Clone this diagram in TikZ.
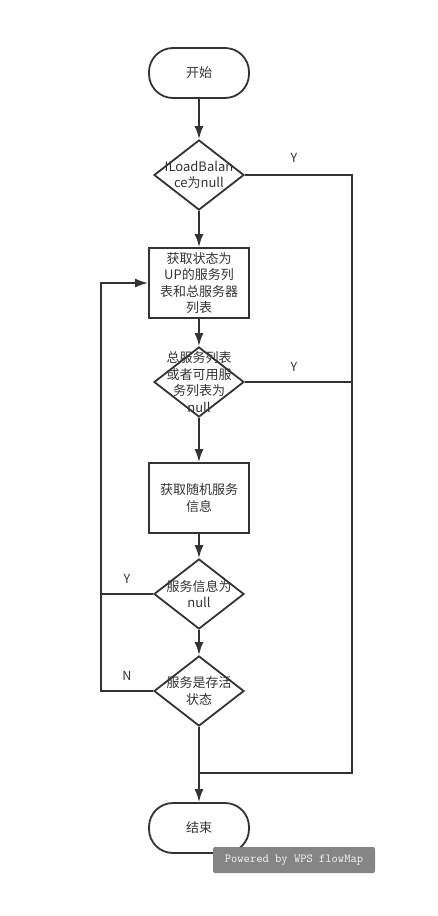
\documentclass[tikz,border=0pt]{standalone}
\usepackage{fontspec}
\setmainfont{Noto Sans CJK SC}
\usetikzlibrary{shapes.geometric,arrows.meta}
\definecolor{linegray}{HTML}{333333}
\definecolor{markgray}{HTML}{858585}

\tikzset{
  flow/.style={draw=linegray,line width=1.8pt},
  nodefont/.style={text=linegray,font=\fontsize{13}{16.5}\selectfont},
  terminal/.style={flow,nodefont,rounded corners=24pt,minimum width=100pt,minimum height=50pt,inner sep=0pt},
  process/.style={flow,nodefont,minimum width=100pt,minimum height=70pt,inner sep=0pt,align=center},
  decision/.style={flow,diamond,minimum width=90pt,minimum height=70pt,inner sep=0pt,
    label={[nodefont,align=center]center:#1}},
  branch/.style={text=linegray,font=\fontsize{12.5}{14}\selectfont}
}

\begin{document}
\begin{tikzpicture}[x=1pt,y=-1pt,>={Latex[length=13pt,width=9pt]}]
  \useasboundingbox (0,0) rectangle (437,916);
  % main column
  \node[terminal] (start) at (199,73) {开始};
  \node[decision={ILoadBalan\\ce为null}] (d1) at (199,175) {};
  \node[process] (r1) at (199,283) {获取状态为\\UP的服务列\\表和总服务器\\列表};
  \node[decision={总服务列表\\或者可用服\\务列表为\\null}] (d2) at (199,382) {};
  \node[process] (r2) at (199,498) {获取随机服务\\信息};
  \node[decision={服务信息为\\null}] (d3) at (199,594) {};
  \node[decision={服务是存活\\状态}] (d4) at (199,691) {};
  \node[terminal] (end) at (199,828) {结束};
  % corner points
  \coordinate (rtop) at (352,175);
  \coordinate (rbot) at (352,773);
  \coordinate (join) at (199,773);
  \coordinate (ltop) at (101,283);
  \coordinate (lbot) at (101,691);
  \draw[flow,->] (start) -- (d1);
  \draw[flow,->] (d1) -- (r1);
  \draw[flow,->] (r1) -- (d2);
  \draw[flow,->] (d2) -- (r2);
  \draw[flow,->] (r2) -- (d3);
  \draw[flow,->] (d3) -- (d4);
  \draw[flow] (d4.south) -- (join);
  \draw[flow,->] (join) -- (end);
  % right side
  \draw[flow] (d1.east) -- (rtop) -- (rbot) -- (join);
  \draw[flow] (d2.east) -- (d2.east -| rtop);
  % left side
  \draw[flow,->] (d4.west) -- (lbot) -- (ltop) -- (r1.west);
  \draw[flow] (d3.west) -- (d3.west -| lbot);
  % branch labels
  \node[branch] (y1) at (294,158) {Y};
  \node[branch] (y2) at (294,367) {Y};
  \node[branch] (y3) at (127,579) {Y};
  \node[branch] (n1) at (127,676) {N};
  \node[fill=markgray,rounded corners=2pt,minimum width=162pt,minimum height=26pt,
    text=white!92!gray,font=\ttfamily\fontsize{12.2}{13}\selectfont] (wps) at (294,860) {Powered by WPS flowMap};
\end{tikzpicture}
\end{document}
